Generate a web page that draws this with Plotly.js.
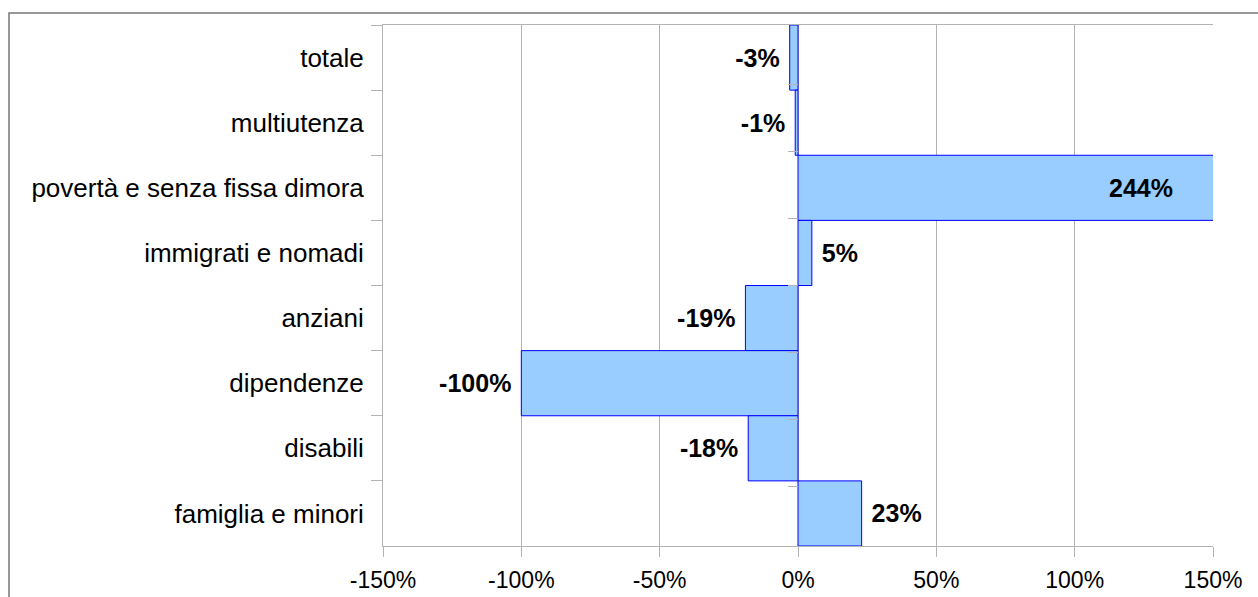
<!DOCTYPE html>
<html>
<head>
<meta charset="utf-8">
<script src="https://cdn.plot.ly/plotly-3.0.1.min.js"></script>
<style>
html,body{margin:0;padding:0;background:#fff;}
#chart{width:1258px;height:597px;}
</style>
</head>
<body>
<div id="chart"></div>
<script>
// Data (top to bottom as in the reference)
const categories = ["totale", "multiutenza", "povertà e senza fissa dimora", "immigrati e nomadi", "anziani", "dipendenze", "disabili", "famiglia e minori"];
const changePct = [-3, -1, 244, 5, -19, -100, -18, 23];
const xTickVals = [-150, -100, -50, 0, 50, 100, 150];
const xTickText = ["-150%", "-100%", "-50%", "0%", "50%", "100%", "150%"];
const xRange = [-150, 150];

const NB = "\u00a0";
const labels = changePct.map(v => v + "%");
const overflow = changePct.map(v => v > xRange[1]);
const texts = changePct.map((v, i) => overflow[i] ? "" : (v < 0 ? labels[i] + NB : NB + labels[i]));

const FONT = "Liberation Sans, Arial, sans-serif";
const LABEL_FONT = {family: FONT, size: 25, color: "#000", weight: "bold"};

const bars = {
  type: "bar",
  orientation: "h",
  x: changePct,
  y: categories,
  text: texts,
  textposition: "outside",
  textfont: LABEL_FONT,
  outsidetextfont: LABEL_FONT,
  constraintext: "none",
  cliponaxis: true,
  marker: {color: "#99ccff", line: {color: "#0000ff", width: 1}},
  hoverinfo: "x+y"
};

const tickHelper = {
  type: "scatter",
  mode: "none",
  x: changePct,
  y: categories,
  yaxis: "y2",
  hoverinfo: "skip",
  showlegend: false
};

// labels of bars that run past the axis end sit inside the bar, near the clipped end
const annotations = categories.map((c, i) => overflow[i] ? {
  x: xRange[1], y: c, xref: "x", yref: "y",
  text: labels[i], showarrow: false,
  xanchor: "right", yanchor: "middle", xshift: -38,
  font: LABEL_FONT
} : null).filter(a => a);

const L = 383, R = 45, T = 25, B = 51;
const plotW = 1258 - L - R, plotH = 597 - T - B;

const layout = {
  width: 1258,
  height: 597,
  margin: {l: L, r: R, t: T, b: B, pad: 0},
  paper_bgcolor: "#fff",
  plot_bgcolor: "#fff",
  showlegend: false,
  bargap: 0,
  font: {family: FONT, size: 22, color: "#000"},
  annotations: annotations,
  xaxis: {
    range: xRange,
    tickvals: xTickVals,
    ticktext: xTickText,
    showgrid: true,
    gridcolor: "#b3b3b3",
    gridwidth: 1,
    zeroline: false,
    showline: true,
    linecolor: "#b3b3b3",
    linewidth: 1,
    mirror: true,
    ticks: "outside",
    ticklen: 10,
    tickcolor: "#b3b3b3",
    ticklabelstandoff: 3,
    tickfont: {family: FONT, size: 23, color: "#000"},
    fixedrange: true
  },
  yaxis: {
    type: "category",
    categoryorder: "array",
    categoryarray: categories,
    autorange: "reversed",
    showgrid: false,
    zeroline: false,
    showline: true,
    linecolor: "#b3b3b3",
    ticks: "outside",
    tickson: "boundaries",
    ticklen: 11,
    tickcolor: "#b3b3b3",
    ticklabelstandoff: 13,
    tickfont: {family: FONT, size: 26, color: "#000"},
    fixedrange: true
  },
  yaxis2: {
    type: "category",
    categoryorder: "array",
    categoryarray: categories,
    autorange: "reversed",
    overlaying: "y",
    anchor: "free",
    position: 0.5,
    side: "left",
    showgrid: false,
    zeroline: false,
    showline: false,
    showticklabels: false,
    ticks: "outside",
    tickson: "boundaries",
    ticklen: 10,
    tickcolor: "#b3b3b3",
    fixedrange: true
  },
  shapes: [{
    type: "rect",
    xref: "paper", yref: "paper",
    x0: (9 - L) / plotW, x1: (1300 - L) / plotW,
    y0: -(B + 40) / plotH, y1: (plotH + T - 13) / plotH,
    line: {color: "#777777", width: 1.5},
    fillcolor: "rgba(0,0,0,0)",
    layer: "below"
  }]
};

Plotly.newPlot("chart", [tickHelper, bars], layout, {displayModeBar: false, staticPlot: true});
</script>
</body>
</html>
